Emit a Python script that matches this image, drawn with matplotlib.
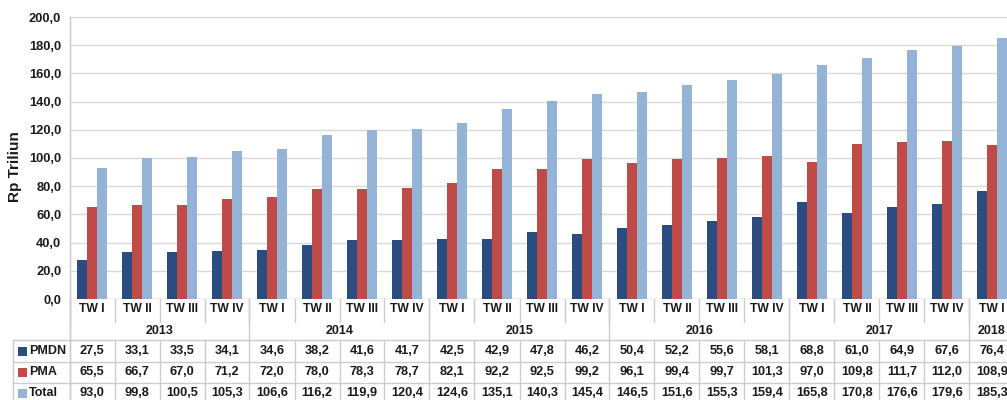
import matplotlib
matplotlib.use("Agg")
import matplotlib.pyplot as plt
from matplotlib.transforms import blended_transform_factory
from matplotlib.lines import Line2D
from matplotlib.patches import Rectangle

quarters = ["TW I", "TW II", "TW III", "TW IV"] * 5 + ["TW I"]
years = ["2013", "2014", "2015", "2016", "2017", "2018"]
year_sizes = [4, 4, 4, 4, 4, 1]
pmdn = [27.5, 33.1, 33.5, 34.1, 34.6, 38.2, 41.6, 41.7, 42.5, 42.9, 47.8, 46.2,
        50.4, 52.2, 55.6, 58.1, 68.8, 61.0, 64.9, 67.6, 76.4]
pma = [65.5, 66.7, 67.0, 71.2, 72.0, 78.0, 78.3, 78.7, 82.1, 92.2, 92.5, 99.2,
       96.1, 99.4, 99.7, 101.3, 97.0, 109.8, 111.7, 112.0, 108.9]
total = [93.0, 99.8, 100.5, 105.3, 106.6, 116.2, 119.9, 120.4, 124.6, 135.1, 140.3, 145.4,
         146.5, 151.6, 155.3, 159.4, 165.8, 170.8, 176.6, 179.6, 185.3]
series_names = ["PMDN", "PMA", "Total"]
colors = ["#2B4C7E", "#BE4B48", "#95B3D7"]
yticks = [0, 20, 40, 60, 80, 100, 120, 140, 160, 180, 200]

plt.rcParams['font.family'] = ['Liberation Sans', 'DejaVu Sans']
W, H = 1007, 400
fig = plt.figure(figsize=(W / 100, H / 100), dpi=100)
ax = fig.add_axes([69.5 / W, (H - 299) / H, 945 / W, 282 / H])

n = len(quarters)
xs = list(range(n))
bw = 0.222
for k, (vals, c) in enumerate(zip([pmdn, pma, total], colors)):
    ax.bar([x + (k - 1) * bw for x in xs], vals, width=bw, color=c, zorder=3)

txtc = "#1a1a1a"
ax.set_xlim(-0.5, n - 0.5)
ax.set_ylim(0, 200)
ax.set_yticks(yticks)
ax.set_yticklabels([f"{v:.1f}".replace(".", ",") for v in yticks],
                   fontsize=9.3, fontweight="bold", color=txtc)
ax.tick_params(axis="y", length=0, pad=6)
ax.set_xticks([])
ax.grid(axis="y", color="#D9D9D9", linewidth=1, zorder=0)
for s in ["top", "right", "bottom"]:
    ax.spines[s].set_visible(False)
ax.spines["left"].set_color("#D9D9D9")
ax.axhline(0, color="#D0D0D0", linewidth=1, zorder=2)

fig.text(15 / W, 1 - 167 / H, "Rp Triliun", rotation=90, ha="center", va="center",
         fontsize=11, fontweight="bold", color=txtc)

tr = blended_transform_factory(ax.transData, fig.transFigure)
fy = lambda y: 1 - y / H
lc = "#CCCCCC"

def vline(x, y0, y1):
    fig.add_artist(Line2D([x, x], [fy(y0), fy(y1)], transform=tr, color=lc, lw=1))

def hline(y, x0=13):
    fig.add_artist(Line2D([x0 / W, 1.0], [fy(y), fy(y)], transform=fig.transFigure, color=lc, lw=1))

# quarter labels row
for i, q in enumerate(quarters):
    ax.text(i, fy(309), q, transform=tr, ha="center", va="center",
            fontsize=8.7, fontweight="bold", color=txtc)
for i in range(n + 1):
    vline(i - 0.5, 299, 322)
# year row
start = 0
for y, sz in zip(years, year_sizes):
    ax.text(start + (sz - 1) / 2, fy(331), y, transform=tr, ha="center", va="center",
            fontsize=9, fontweight="bold", color=txtc)
    vline(start - 0.5, 299, 340)
    start += sz
vline(start - 0.5, 299, 340)

# data rows
row_y = [351, 372, 393]
for yl in (340, 361.5, 382.5):
    hline(yl)
fig.add_artist(Line2D([13 / W, 13 / W], [fy(340), fy(400)], transform=fig.transFigure, color=lc, lw=1))
fig.add_artist(Line2D([69.5 / W, 69.5 / W], [fy(17), fy(400)], transform=fig.transFigure, color=lc, lw=1))
for i in range(n + 1):
    vline(i - 0.5, 340, 400)
for vals, name, c, yy in zip([pmdn, pma, total], series_names, colors, row_y):
    fig.add_artist(Rectangle((18 / W, fy(yy + 4.5)), 9 / W, 9 / H, transform=fig.transFigure,
                             facecolor=c, edgecolor="none"))
    fig.text(29 / W, fy(yy), name, ha="left", va="center", fontsize=9,
             fontweight="bold", color=txtc)
    for i, v in enumerate(vals):
        ax.text(i, fy(yy), f"{v:.1f}".replace(".", ","), transform=tr, ha="center",
                va="center", fontsize=9.2, fontweight="bold", color=txtc)

fig.savefig("out.png", dpi=100)
